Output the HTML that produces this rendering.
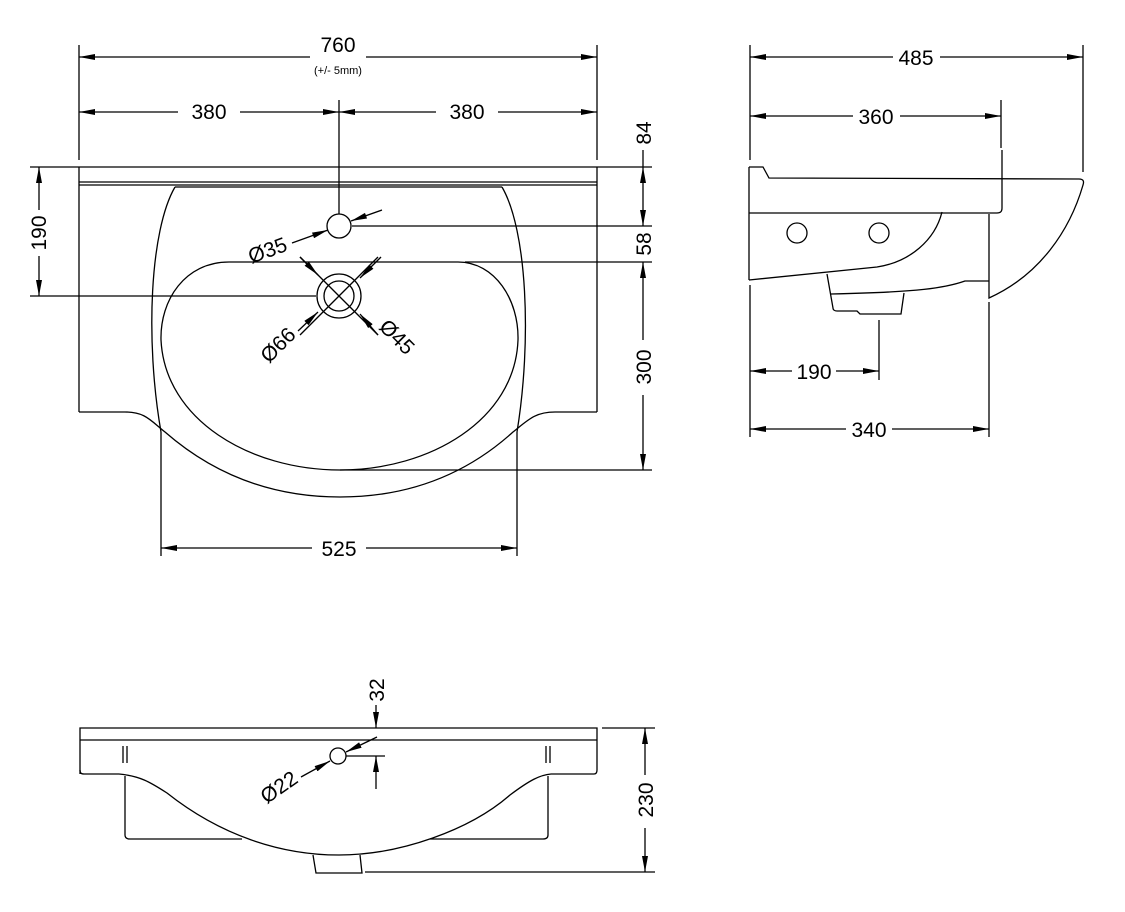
<!DOCTYPE html>
<html><head><meta charset="utf-8"><style>
html,body{margin:0;padding:0;background:#fff;}
svg{display:block;}
text{font-family:"Liberation Sans","DejaVu Sans",sans-serif;fill:#000;}
</style></head><body>
<svg width="1125" height="912" viewBox="0 0 1125 912" xmlns="http://www.w3.org/2000/svg">
<defs>
<marker id="a" viewBox="0 0 16 6" refX="16" refY="3" markerWidth="16" markerHeight="6" markerUnits="userSpaceOnUse" orient="auto-start-reverse">
<path d="M0,0 L16,3 L0,6 Z" fill="#000"/>
</marker>
</defs>
<g fill="none" stroke="#000" stroke-width="1.3">
<!-- ===== TOP VIEW ===== -->
<line x1="30" y1="167" x2="652" y2="167"/>
<line x1="79" y1="167" x2="79" y2="412"/>
<line x1="597" y1="167" x2="597" y2="412"/>
<line x1="79" y1="182" x2="597" y2="182"/>
<line x1="79" y1="185" x2="597" y2="185"/>
<path d="M79,412 L125,412 C145,412 150,420 165,432 C220,480 280,497 340,497 C400,497 460,480 513,432 C528,420 535,412 555,412 L597,412"/>
<path d="M175,187 L502,187"/>
<path d="M175,187 C150,230 145,340 161,432"/>
<path d="M502,187 C527,230 532,340 517,432"/>
<path d="M229,262 L458,262 C495,262 519,300 518,340 C515,420 430,470 340,470 C250,470 165,420 161,340 C160,300 185,262 229,262 Z"/>
<circle cx="339" cy="226" r="12"/>
<circle cx="339" cy="296" r="22"/>
<circle cx="339" cy="296" r="15"/>
<line x1="300" y1="257" x2="378" y2="335"/>
<line x1="378" y1="257" x2="300" y2="335"/>
<!-- extension lines -->
<line x1="79" y1="45" x2="79" y2="160"/>
<line x1="597" y1="45" x2="597" y2="160"/>
<line x1="339" y1="100" x2="339" y2="214"/>
<line x1="30" y1="296" x2="316" y2="296"/>
<line x1="352" y1="226" x2="652" y2="226"/>
<line x1="465" y1="262" x2="652" y2="262"/>
<line x1="340" y1="470" x2="652" y2="470"/>
<line x1="161" y1="432" x2="161" y2="556"/>
<line x1="517" y1="432" x2="517" y2="556"/>
<!-- dims -->
<line x1="79" y1="57" x2="310" y2="57" marker-start="url(#a)"/>
<line x1="366" y1="57" x2="597" y2="57" marker-end="url(#a)"/>
<line x1="79" y1="112" x2="178" y2="112" marker-start="url(#a)"/>
<line x1="240" y1="112" x2="339" y2="112" marker-end="url(#a)"/>
<line x1="339" y1="112" x2="436" y2="112" marker-start="url(#a)"/>
<line x1="498" y1="112" x2="597" y2="112" marker-end="url(#a)"/>
<line x1="39" y1="167" x2="39" y2="210" marker-start="url(#a)"/>
<line x1="39" y1="256" x2="39" y2="296" marker-end="url(#a)"/>
<line x1="643" y1="150" x2="643" y2="167" />
<line x1="643" y1="167" x2="643" y2="226" marker-start="url(#a)" marker-end="url(#a)"/>
<line x1="643" y1="262" x2="643" y2="340" marker-start="url(#a)"/>
<line x1="643" y1="395" x2="643" y2="470" marker-end="url(#a)"/>
<line x1="161" y1="548" x2="312" y2="548" marker-start="url(#a)"/>
<line x1="366" y1="548" x2="517" y2="548" marker-end="url(#a)"/>
<!-- leaders -->
<line x1="292" y1="243" x2="328" y2="230" marker-end="url(#a)"/>
<line x1="382" y1="210" x2="351" y2="221" marker-end="url(#a)"/>
<line x1="300" y1="257" x2="318" y2="275" marker-end="url(#a)"/>
<line x1="381" y1="257" x2="360" y2="278" marker-end="url(#a)"/>
<line x1="298" y1="331" x2="318" y2="312" marker-end="url(#a)"/>
<line x1="378" y1="335" x2="360" y2="314" marker-end="url(#a)"/>

<!-- ===== SIDE VIEW ===== -->
<path d="M749,167 L763,167 L769,178 L1079,179 C1084,179 1084,182 1083,185 C1070,230 1040,275 989,298 L989,214"/>
<path d="M1002,150 L1002,208 C1002,212 1000,213 997,213 L749,213"/>
<line x1="749" y1="167" x2="749" y2="280"/>
<path d="M749,280 L877,267 C910,262 935,240 942,212"/>
<circle cx="797" cy="233" r="10"/>
<circle cx="879" cy="233" r="10"/>
<path d="M989,281 L965,281 C945,288 920,292 831,294"/>
<path d="M827,274 L833,308 C833,310 835,311 837,311 L857,311 L860,314 L901,314 L904,293"/>
<line x1="750" y1="45" x2="750" y2="160"/>
<line x1="1083" y1="45" x2="1083" y2="172"/>
<line x1="1001" y1="100" x2="1001" y2="148"/>
<line x1="750" y1="285" x2="750" y2="437"/>
<line x1="879" y1="320" x2="879" y2="380"/>
<line x1="989" y1="302" x2="989" y2="437"/>
<line x1="750" y1="57" x2="893" y2="57" marker-start="url(#a)"/>
<line x1="940" y1="57" x2="1083" y2="57" marker-end="url(#a)"/>
<line x1="750" y1="116" x2="853" y2="116" marker-start="url(#a)"/>
<line x1="900" y1="116" x2="1001" y2="116" marker-end="url(#a)"/>
<line x1="750" y1="371" x2="792" y2="371" marker-start="url(#a)"/>
<line x1="836" y1="371" x2="879" y2="371" marker-end="url(#a)"/>
<line x1="750" y1="429" x2="846" y2="429" marker-start="url(#a)"/>
<line x1="892" y1="429" x2="989" y2="429" marker-end="url(#a)"/>

<!-- ===== FRONT VIEW ===== -->
<path d="M80,774 L80,728 L597,728 L597,770 C597,773 596,774 594,774"/>
<line x1="80" y1="740" x2="597" y2="740"/>
<path d="M80,770 C80,773 81,774 84,774 L119,774"/>
<path d="M594,774 L551,774"/>
<path d="M119,774 C140,776 150,782 167,793 C220,835 280,855 339,855 C400,855 470,830 510,795 C530,780 540,775 551,774"/>
<path d="M125,776 L125,835 C125,838 127,839 130,839 L242,839"/>
<path d="M548,776 L548,835 C548,838 546,839 543,839 L430,839"/>
<path d="M313,855 L316,873 L362,873 L360,855"/>
<line x1="123" y1="746" x2="123" y2="763"/>
<line x1="127" y1="746" x2="127" y2="763"/>
<line x1="546" y1="746" x2="546" y2="763"/>
<line x1="550" y1="746" x2="550" y2="763"/>
<circle cx="338" cy="756" r="8"/>
<line x1="346" y1="756" x2="385" y2="756"/>
<line x1="376" y1="705" x2="376" y2="728" marker-end="url(#a)"/>
<line x1="376" y1="789" x2="376" y2="756" marker-end="url(#a)"/>
<line x1="602" y1="728" x2="655" y2="728"/>
<line x1="365" y1="872" x2="655" y2="872"/>
<line x1="645" y1="728" x2="645" y2="775" marker-start="url(#a)"/>
<line x1="645" y1="828" x2="645" y2="872" marker-end="url(#a)"/>
<line x1="301" y1="777" x2="330" y2="761" marker-end="url(#a)"/>
<line x1="377" y1="737" x2="346" y2="752" marker-end="url(#a)"/>
</g>
<g font-size="21">
<text x="338" y="52" text-anchor="middle">760</text>
<text x="338" y="74" text-anchor="middle" font-size="11">(+/- 5mm)</text>
<text x="209" y="119" text-anchor="middle">380</text>
<text x="467" y="119" text-anchor="middle">380</text>
<text transform="translate(46,233) rotate(-90)" text-anchor="middle">190</text>
<text transform="translate(651,133) rotate(-90)" text-anchor="middle">84</text>
<text transform="translate(651,244) rotate(-90)" text-anchor="middle">58</text>
<text transform="translate(651,367) rotate(-90)" text-anchor="middle">300</text>
<text x="339" y="556" text-anchor="middle">525</text>
<text transform="translate(270,257) rotate(-20)" text-anchor="middle">Ø35</text>
<text transform="translate(283,350) rotate(-45)" text-anchor="middle">Ø66</text>
<text transform="translate(392,342) rotate(45)" text-anchor="middle">Ø45</text>
<text x="916" y="65" text-anchor="middle">485</text>
<text x="876" y="124" text-anchor="middle">360</text>
<text x="814" y="379" text-anchor="middle">190</text>
<text x="869" y="437" text-anchor="middle">340</text>
<text transform="translate(384,690) rotate(-90)" text-anchor="middle">32</text>
<text transform="translate(653,800) rotate(-90)" text-anchor="middle">230</text>
<text transform="translate(283,793) rotate(-35)" text-anchor="middle">Ø22</text>
</g>
</svg>
</body></html>
